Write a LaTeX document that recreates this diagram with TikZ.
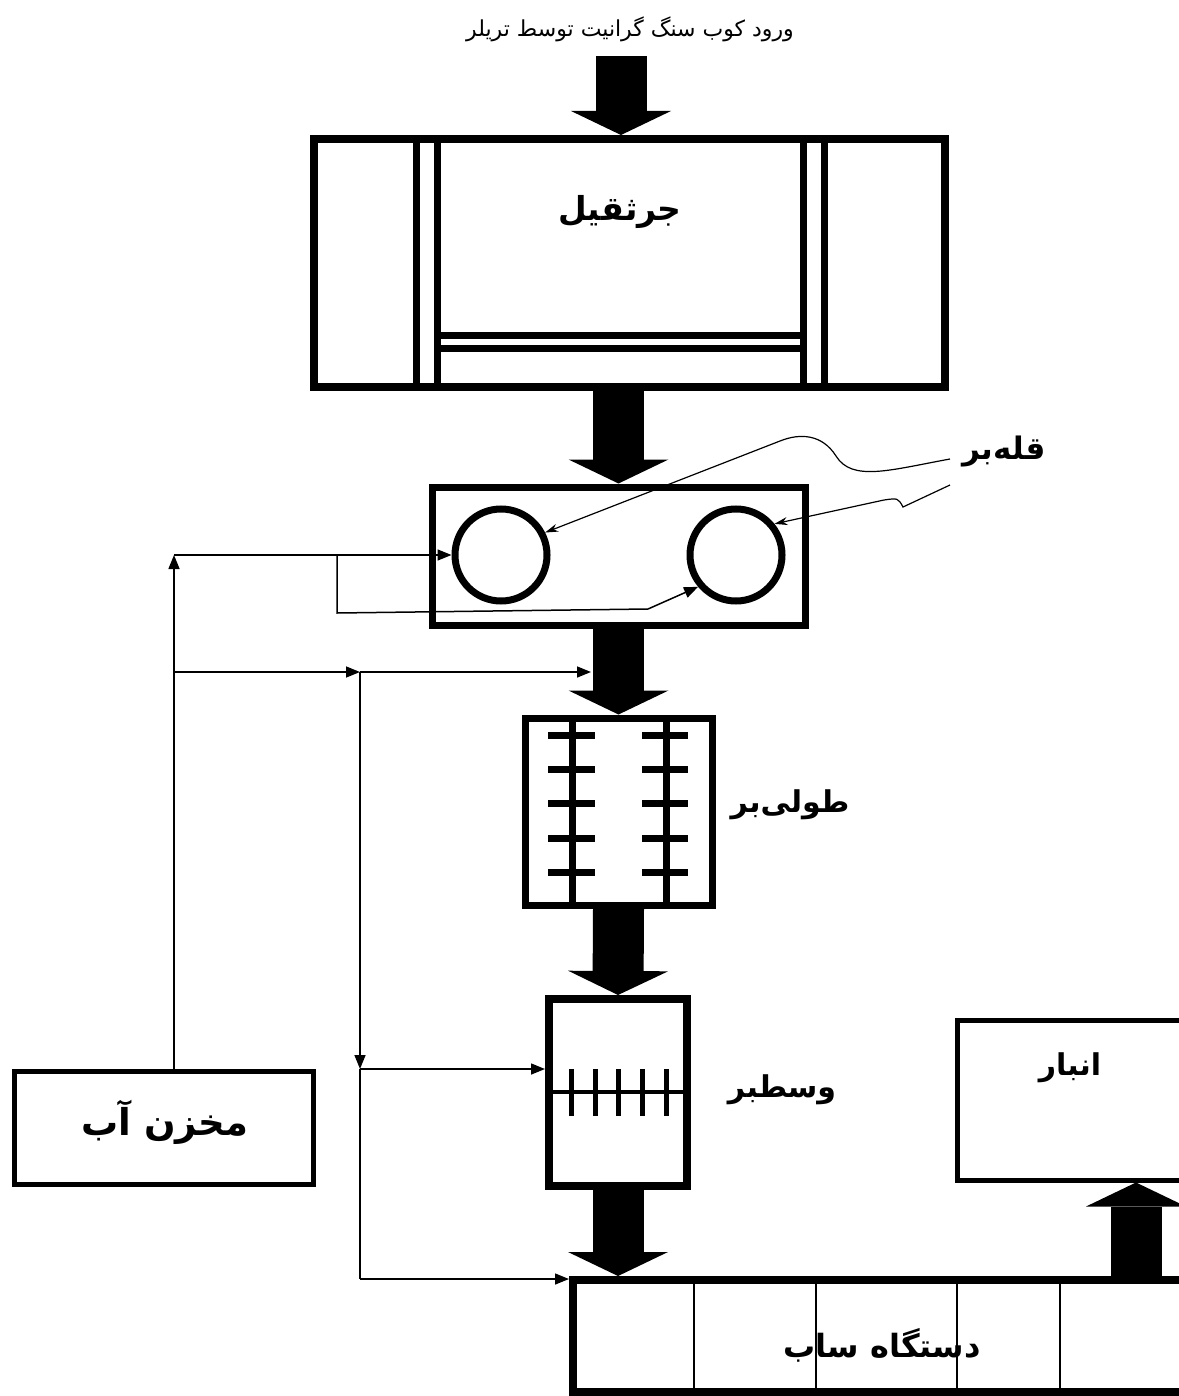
\documentclass[tikz,border=0pt]{standalone}
\usepackage{fontspec}
\usetikzlibrary{arrows.meta}
\newfontfamily\farsi[Script=Arabic]{DejaVu Sans}
\TeXXeTstate=1
\newcommand{\fa}[1]{\farsi\beginR #1\endR}

\begin{document}
\begin{tikzpicture}[x=1pt,y=-1pt,
  box/.style={rectangle, draw, line width=#1, inner sep=0pt},
  wheel/.style={circle, draw, line width=7pt, minimum size=92pt, inner sep=0pt},
  flow/.style={line width=51pt, -{Triangle[length=24pt,width=100pt,line width=0pt]}},
  pipe/.style={line width=1.5pt, -{Triangle[length=14pt,width=11pt]}},
  pointer/.style={line width=1.2pt, -{Stealth[length=13pt,width=8pt]}},
  big/.style={font=\fontsize{#1}{36}\selectfont\bfseries\farsi, inner sep=0pt},
  big/.default=30,
  bar/.style={line width=7pt}]
  \useasboundingbox (0,0) rectangle (1178,1396);

  \node[font=\fontsize{22}{26}\selectfont\farsi, inner sep=0pt] (title) at (630,29) {\fa{ورود کوب سنگ گرانیت توسط تریلر}};

  \node[box=8pt, minimum width=631pt, minimum height=248pt] (crane) at (629.5,263) {};
  \foreach \x in {416,437,803,824}
    \draw[bar] (\x,139) -- (\x,387);
  \foreach \y in {335,348}
    \draw[bar] (437,\y) -- (803,\y);
  \node[big=33] (cranetxt) at (620,212) {\fa{جرثقیل}};

  \node[box=7pt, minimum width=373pt, minimum height=138pt] (topcut) at (618.5,556) {};
  \node[wheel] (c1) at (501,555) {};
  \node[wheel] (c2) at (736,555) {};
  \node[big=31] (topcuttxt) at (1004,452) {\fa{قله‌بر}};

  \node[box=7pt, minimum width=187pt, minimum height=187pt] (longcut) at (618.5,811.5) {};
  \foreach \x in {572,666}
    \draw[bar] (\x,718) -- (\x,905);
  \foreach \y in {735,769,803,838,872} {
    \draw[bar] (548,\y) -- (595,\y);
    \draw[bar] (642,\y) -- (688,\y);
  }
  \node[big] (longcuttxt) at (790,805) {\fa{طولی‌بر}};

  \node[box=8pt, minimum width=138pt, minimum height=187pt] (midcut) at (618,1092.5) {};
  \draw[line width=4pt] (549,1092) -- (687,1092);
  \foreach \x in {571,595,618,642,666}
    \draw[line width=5pt] (\x,1069) -- (\x,1116);
  \node[big] (midcuttxt) at (782,1090) {\fa{وسطبر}};

  \node[box=8pt, minimum width=627pt, minimum height=112pt] (polish) at (886.5,1336) {};
  \foreach \x in {694,816,957,1060}
    \draw[line width=2pt] (\x,1280) -- (\x,1392);
  \node[big=32] (polishtxt) at (882,1345) {\fa{دستگاه ساب}};

  \node[box=5pt, minimum width=233pt, minimum height=160pt] (store) at (1073.5,1100) {};
  \node[big] (storetxt) at (1070,1068) {\fa{انبار}};

  \node[box=5pt, minimum width=299pt, minimum height=113pt] (tank) at (163.5,1127.5) {};
  \node[big=37] (tanktxt) at (165,1122) {\fa{مخزن آب}};

  % main flow
  \coordinate (in) at (621,56);
  \coordinate (up) at (1136,1276);
  \draw[flow] (in) -- (in |- crane.north);
  \draw[flow] (crane.south -| topcut.north) -- (topcut.north);
  \draw[flow] (topcut.south) -- (longcut.north);
  \draw[flow] (longcut.south) -- (midcut.north);
  \draw[flow] (midcut.south) -- (midcut.south |- polish.north);
  \draw[flow] (up) -- (up |- store.south);

  % water
  \coordinate (j1) at (174,555);
  \coordinate (j2) at (174,672);
  \coordinate (j3) at (360,672);
  \coordinate (j4) at (360,1069);
  \coordinate (j5) at (360,1279);
  \coordinate (j6) at (337,555);
  \coordinate (j7) at (337,613);
  \coordinate (j8) at (648,609);
  \coordinate (s2) at (591,672);
  \draw[pipe] (tank.north -| j1) -- (j1);
  \draw[pipe] (j1) -- (c1.west);
  \draw[line width=1.5pt] (j6) -- (j7) -- (j8);
  \draw[pipe] (j8) -- (c2.220);
  \draw[pipe] (j2) -- (j3);
  \draw[pipe] (j3) -- (s2);
  \draw[pipe] (j3) -- (j4);
  \draw[line width=1.5pt] (j4) -- (j5);
  \draw[pipe] (j4) -- (j4 -| midcut.west);
  \draw[pipe] (j5) -- (j5 -| polish.west);

  % pointers
  \coordinate (p1) at (950,459);
  \coordinate (p2) at (950,485);
  \draw[pointer] (p1) .. controls (890,470) and (852,482) .. (836,456)
    .. controls (822,434) and (800,433) .. (780,441) -- (c1.27);
  \draw[pointer] (p2) -- (903,507) .. controls (898,498) .. (884,500) -- (c2.39);
\end{tikzpicture}
\end{document}
